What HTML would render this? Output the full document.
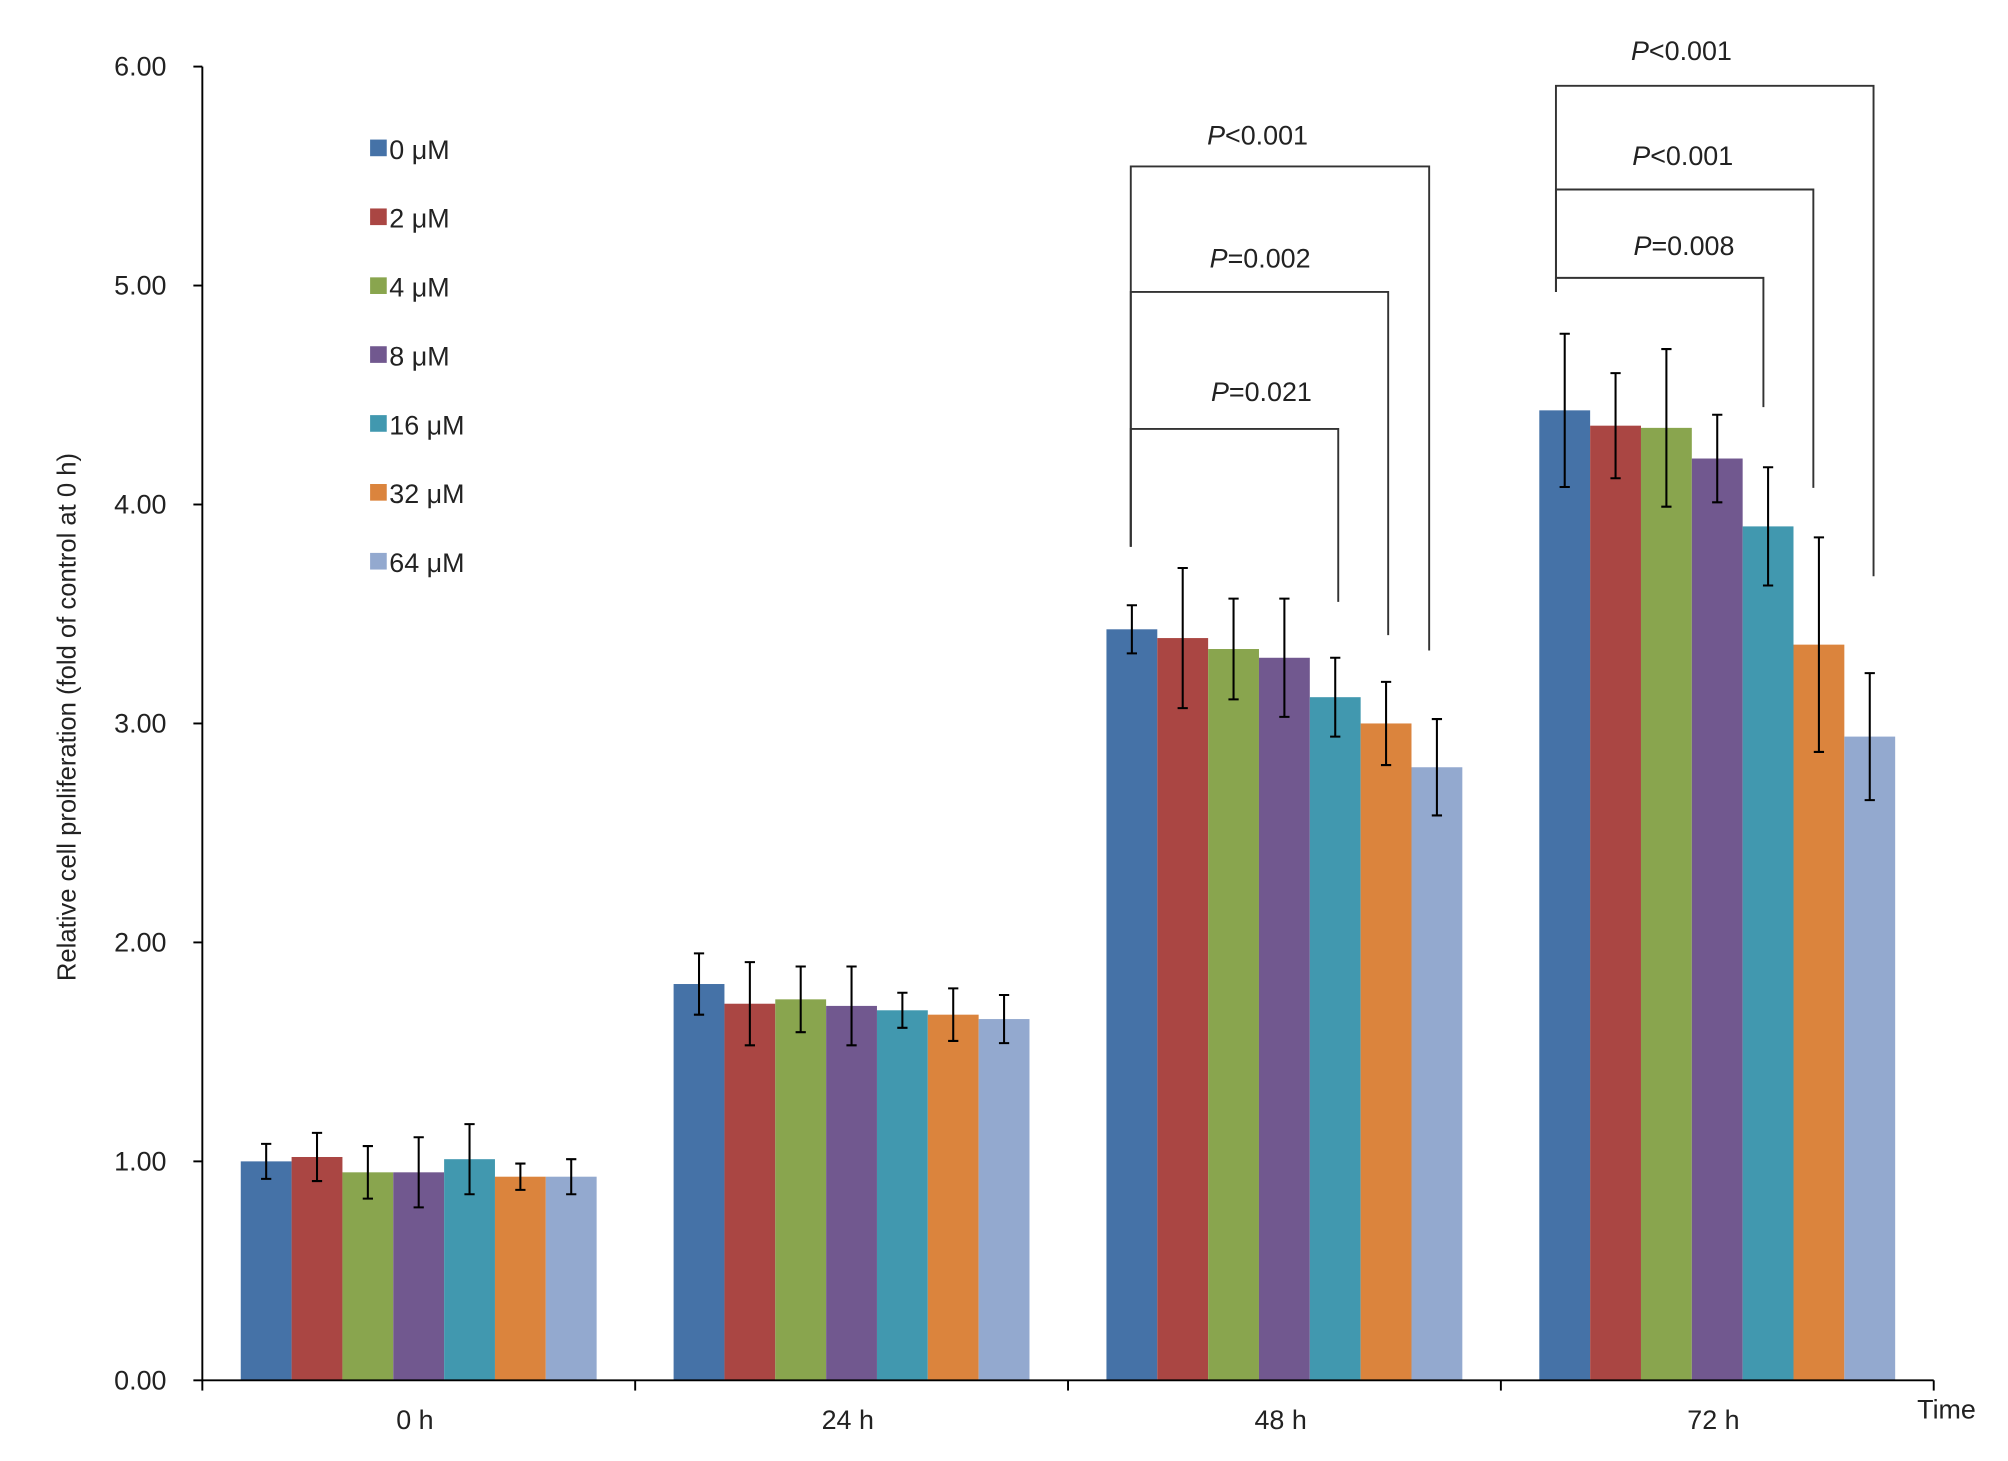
<!DOCTYPE html>
<html><head><meta charset="utf-8"><style>
html,body{margin:0;padding:0;background:#fff;}
svg{display:block;font-family:"Liberation Sans",Arial,sans-serif;}
</style></head><body>
<svg id="chart" width="2008" height="1461" viewBox="0 0 1568 1141" preserveAspectRatio="none" xmlns="http://www.w3.org/2000/svg"></svg>
<script>
const categories = ["0 h","24 h","48 h","72 h"];
const seriesNames = ["0 μM","2 μM","4 μM","8 μM","16 μM","32 μM","64 μM"];
const seriesColors = ["#4572a7","#aa4643","#89a54e","#71588f","#4198af","#db843d","#93a9cf"];
const means0 = [1.00,1.02,0.95,0.95,1.01,0.93,0.93];
const means24 = [1.81,1.72,1.74,1.71,1.69,1.67,1.65];
const means48 = [3.43,3.39,3.34,3.30,3.12,3.00,2.80];
const means72 = [4.43,4.36,4.35,4.21,3.90,3.36,2.94];
const err0 = [0.08,0.11,0.12,0.16,0.16,0.06,0.08];
const err24 = [0.14,0.19,0.15,0.18,0.08,0.12,0.11];
const err48 = [0.11,0.32,0.23,0.27,0.18,0.19,0.22];
const err72 = [0.35,0.24,0.36,0.20,0.27,0.49,0.29];
const yTicks = [0,1,2,3,4,5,6];
const yTickLabels = ["0.00","1.00","2.00","3.00","4.00","5.00","6.00"];
const means = [means0,means24,means48,means72];
const errs = [err0,err24,err48,err72];

const svg = document.getElementById('chart');
const NS = "http://www.w3.org/2000/svg";
const X0=158, X1=1510, Y0=1078, Y6=52, YMAX=6;
const groupW=(X1-X0)/categories.length, barOff=30, barW=39.7;
const y = v => Y0 - v/YMAX*(Y0-Y6);
const xBar = (g,s) => X0 + g*groupW + barOff + s*barW;
function el(tag, attrs, parent){const e=document.createElementNS(NS,tag);for(const k in attrs)e.setAttribute(k,attrs[k]);(parent||svg).appendChild(e);return e;}

for(let g=0;g<categories.length;g++){
  for(let s=0;s<seriesNames.length;s++){
    const v=means[g][s], x=xBar(g,s);
    const r=el('rect',{x:x,y:y(v),width:barW,height:Y0-y(v),fill:seriesColors[s]});
    
    
    const cx=x+barW/2, e=errs[g][s];
    const eb=el('path',{d:`M${cx} ${y(v+e)}V${y(v-e)}M${cx-4} ${y(v+e)}H${cx+4}M${cx-4} ${y(v-e)}H${cx+4}`,stroke:'#000','stroke-width':1.6,fill:'none'});
    
    
  }
}
const ax=el('path',{d:`M${X0} ${Y6}V${Y0}H${X1}`,stroke:'#000','stroke-width':1.5,fill:'none'});


yTicks.forEach((t,i)=>{
  el('line',{x1:X0-7,x2:X0,y1:y(t),y2:y(t),stroke:'#000','stroke-width':1.5});
  const tx=el('text',{x:X0-28,y:y(t)+7,'text-anchor':'end','font-size':21,fill:'#222'});
  tx.textContent=yTickLabels[i];
  
  
});
for(let g=0;g<=categories.length;g++){
  el('line',{x1:X0+g*groupW,x2:X0+g*groupW,y1:Y0,y2:Y0+8,stroke:'#000','stroke-width':1.5});
}
categories.forEach((c,g)=>{
  const tx=el('text',{x:X0+g*groupW+groupW/2-3,y:Y0+38,'text-anchor':'middle','font-size':21,fill:'#222'});
  tx.textContent=c;
  
  
});
const tt=el('text',{x:1520,y:1108,'text-anchor':'middle','font-size':21,fill:'#222'});
tt.textContent='Time';


const yt=el('text',{x:0,y:0,'text-anchor':'middle','font-size':20,fill:'#222',transform:'translate(59,560) rotate(-90)'});
yt.textContent='Relative cell proliferation (fold of control at 0 h)';



seriesNames.forEach((n,i)=>{
  const ly=116+i*53.8;
  el('rect',{x:289,y:ly-7,width:13,height:13,fill:seriesColors[i]});
  const t=el('text',{x:304,y:ly+8,'font-size':21,fill:'#222'});
  t.textContent=n;
  
  
});

const brackets=[
  {lx:883,ltop:130,lbot:427,rx:1116,rbot:508,label:'<0.001',ty:105,tx:982},
  {lx:883,ltop:228,lbot:427,rx:1084,rbot:496,label:'=0.002',ty:201,tx:984},
  {lx:883,ltop:335,lbot:427,rx:1045,rbot:470,label:'=0.021',ty:305,tx:985},
  {lx:1215,ltop:67,lbot:228,rx:1463,rbot:450,label:'<0.001',ty:39,tx:1313},
  {lx:1215,ltop:148,lbot:228,rx:1416,rbot:381,label:'<0.001',ty:121,tx:1314},
  {lx:1215,ltop:217,lbot:228,rx:1377,rbot:318,label:'=0.008',ty:191,tx:1315}
];
brackets.forEach(b=>{
  const p=el('path',{d:`M${b.lx} ${b.lbot}V${b.ltop}H${b.rx}V${b.rbot}`,stroke:'#333','stroke-width':1.5,fill:'none'});
  
  
  const t=el('text',{x:b.tx,y:b.ty+8,'text-anchor':'middle','font-size':21,fill:'#222'});
  t.innerHTML='<tspan font-style="italic">P</tspan>'+b.label.replace('<','&lt;');
  
  
});
</script>
</body></html>
